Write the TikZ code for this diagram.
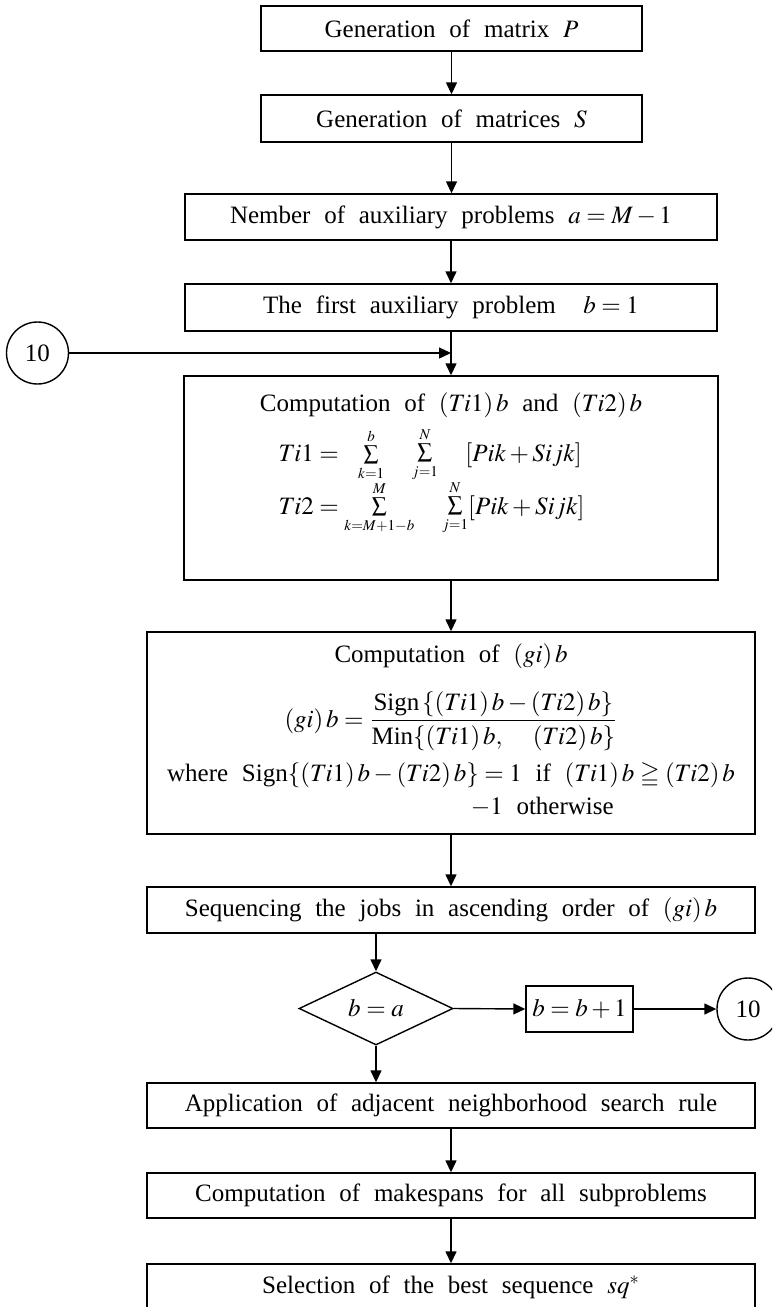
\documentclass[tikz,border=0pt]{standalone}
\usepackage{amsmath,amssymb}
\usepackage{mathptmx}
\usepackage{fontspec}
\setmainfont{Liberation Serif}
\usetikzlibrary{shapes.geometric,arrows.meta}
\newcommand{\smallsum}[2]{\mathop{\vcenter{\offinterlineskip\halign{\hfil##\hfil\cr
  $\scriptscriptstyle #2$\cr\noalign{\kern2pt}
  \fontsize{10.5}{10.5}\selectfont$\textstyle\sum$\cr\noalign{\kern2.5pt}
  $\scriptscriptstyle #1$\cr}}}}
\newcommand{\flowfont}{\fontsize{12.5}{16.5}\selectfont\spaceskip 0.55em\relax}

\begin{document}
\begin{tikzpicture}
[x=0.5pt,y=-0.5pt,line width=0.7pt,%
  every node/.style={inner sep=0pt,font=\flowfont},%
  stepbox/.style={shape=rectangle,draw,minimum height=23pt},%
  narrowbox/.style={stepbox,minimum width=190.5pt},%
  midbox/.style={stepbox,minimum width=266pt},%
  widebox/.style={stepbox,minimum width=304pt},%
  connector/.style={-{Triangle[length=6pt,width=5.5pt]}},%
  label10/.style={shape=circle,draw,minimum size=31pt}]
\clip (0,0) rectangle (772,1307);
\node[narrowbox,minimum height=22.5pt] (genP) at (451.5,28.5) {Generation of matrix $P$};
\node[narrowbox,minimum height=23.5pt] (genS) at (451.5,118.5) {Generation of matrices $S$};
\node[midbox] (nump) at (451,217) {Nember of auxiliary problems $a=M-1$};
\node[midbox,minimum height=23.5pt] (first) at (451,307.5) {The first auxiliary problem\ \ $b=1$};
\node[label10] (c10l) at (37.5,353) {10};
\coordinate (join) at (first.south |- c10l.east);
\node[draw,minimum width=267pt,minimum height=102pt] (compT) at (451,478) {};
\node (compTtitle) at (451,405) {Computation of $(Ti1)\,b$ and $(Ti2)\,b$};
\node[anchor=west] (sumone) at (278,455) {$Ti1=\ \smallsum{k=1}{b}\quad\smallsum{j=1}{N}\ \ [Pik+Sijk]$};
\node[anchor=west] (sumtwo) at (278,508) {$Ti2=\smallsum{k=M+1-b}{M}\quad\smallsum{j=1}{N}[Pik+Sijk]$};
\node[draw,minimum width=304pt,minimum height=101pt] (compG) at (451,733) {};
\node (compGtitle) at (451,656) {Computation of $(gi)\,b$};
\node (gfrac) at (451,721) {$(gi)\,b=\dfrac{\text{Sign}\,\{(Ti1)\,b-(Ti2)\,b\}}{\text{Min}\{(Ti1)\,b,\ \ (Ti2)\,b\}}$};
\node[align=left] (signdef) at (451,790) {where Sign$\{(Ti1)\,b-(Ti2)\,b\}=1$\ if\ $(Ti1)\,b\geqq(Ti2)\,b$\\
  \hphantom{where Sign$\{(Ti1)\,b-(Ti2)\,b\}$}\hspace{-4pt}$-1$ otherwise};
\node[widebox] (seq) at (451,910) {Sequencing the jobs in ascending order of $(gi)\,b$};
\node[shape=diamond,draw,minimum width=77pt,minimum height=36.5pt,aspect=2.1] (dec) at (376,1008.5) {$b=a$};
\node[stepbox,minimum width=53.5pt] (inc) at (579.5,1009) {$b=b+1$};
\node[label10] (c10r) at (748,1009) {10};
\node[widebox,minimum height=22.5pt] (app) at (451,1105.5) {Application of adjacent neighborhood search rule};
\node[widebox,minimum height=22.5pt] (mks) at (451,1195.5) {Computation of makespans for all subproblems};
\node[widebox] (sel) at (451,1287) {Selection of the best sequence $sq^*$};
\draw[connector] (genP.south) -- (genP.south |- genS.north);
\draw[connector] (genS.south) -- (genS.south |- nump.north);
\draw[connector] (nump.south) -- (first.north);
\draw[connector] (first.south) -- (compT.north);
\draw[connector] (c10l.east) -- (join);
\draw[connector] (compT.south) -- (compG.north);
\draw[connector] (compG.south) -- (seq.north);
\draw[connector] (dec.north |- seq.south) -- (dec.north);
\draw[connector] (dec.east) -- (inc.west);
\draw[connector] (inc.east) -- (c10r.west);
\draw[connector] (dec.south) -- (dec.south |- app.north);
\draw[connector] (app.south) -- (mks.north);
\draw[connector] (mks.south) -- (sel.north);
\end{tikzpicture}
\end{document}
